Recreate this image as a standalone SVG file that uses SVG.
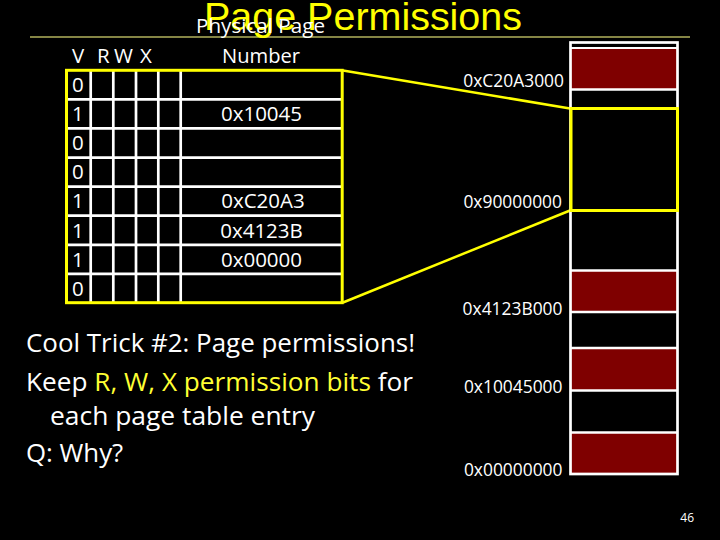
<svg xmlns="http://www.w3.org/2000/svg" width="720" height="540" viewBox="0 0 720 540">
<style>
  .t { font-family: "Open Sans", "Noto Sans", sans-serif; fill: #ffffff; }
  .cell { font-size: 20.5px; }
  .addr { font-size: 17.4px; text-anchor: end; }
  .ppn { font-size: 20.5px; text-anchor: middle; }
  .body { font-size: 25.8px; }
  .hl { fill: #ffff33; }
  .grid { stroke: #ffffff; stroke-width: 2.7; fill: none; }
  .seg { stroke: #ffffff; stroke-width: 2.7; fill: none; }
  .red { fill: #7f0000; }
  .ylw { stroke: #ffff00; stroke-width: 3; fill: none; }
  .conn { stroke: #ffff00; stroke-width: 2.5; fill: none; }
</style>
<rect x="0" y="0" width="720" height="540" fill="#000000"/>

<g id="title">
  <line x1="30" y1="37" x2="690" y2="37" stroke="#858545" stroke-width="2"/>
  <text x="204" y="29.5" font-family="Liberation Sans, Arial, sans-serif" font-size="39" fill="#ffff00" textLength="318" lengthAdjust="spacingAndGlyphs">Page Permissions</text>
</g>

<g id="page-table">
  <text class="t cell" x="196" y="33" textLength="129" lengthAdjust="spacingAndGlyphs">Physical Page</text>
  <text class="t cell" x="222" y="63" textLength="78" lengthAdjust="spacingAndGlyphs">Number</text>
  <text class="t cell" x="72" y="63">V</text>
  <text class="t cell" x="97" y="63">R</text>
  <text class="t cell" x="114" y="63">W</text>
  <text class="t cell" x="140" y="63">X</text>
  <g class="grid">
    <line x1="66" y1="99.3" x2="342" y2="99.3"/>
    <line x1="66" y1="128.4" x2="342" y2="128.4"/>
    <line x1="66" y1="157.6" x2="342" y2="157.6"/>
    <line x1="66" y1="186.6" x2="342" y2="186.6"/>
    <line x1="66" y1="215.7" x2="342" y2="215.7"/>
    <line x1="66" y1="244.8" x2="342" y2="244.8"/>
    <line x1="66" y1="273.9" x2="342" y2="273.9"/>
    <line x1="90.7" y1="70" x2="90.7" y2="303"/>
    <line x1="113.3" y1="70" x2="113.3" y2="303"/>
    <line x1="136" y1="70" x2="136" y2="303"/>
    <line x1="158.3" y1="70" x2="158.3" y2="303"/>
    <line x1="180.7" y1="70" x2="180.7" y2="303"/>
  </g>
  <rect class="ylw" x="66.5" y="70.3" width="275.7" height="232.4"/>
  <text class="t cell" x="72" y="92">0</text>
  <text class="t cell" x="72" y="121.1">1</text>
  <text class="t cell" x="72" y="150.2">0</text>
  <text class="t cell" x="72" y="179.3">0</text>
  <text class="t cell" x="72" y="208.4">1</text>
  <text class="t cell" x="72" y="237.5">1</text>
  <text class="t cell" x="72" y="266.6">1</text>
  <text class="t cell" x="72" y="295.7">0</text>
  <text class="t ppn" x="261.5" y="121">0x10045</text>
  <text class="t ppn" x="263" y="208.4">0xC20A3</text>
  <text class="t ppn" x="261.5" y="237.5">0x4123B</text>
  <text class="t ppn" x="261.5" y="266.6">0x00000</text>
</g>

<g id="connectors">
  <line class="conn" x1="343" y1="70.5" x2="570" y2="108.5"/>
  <line class="conn" x1="343" y1="302.5" x2="570" y2="210.5"/>
</g>

<g id="memory">
  <rect class="red" x="570" y="49" width="108" height="40"/>
  <rect class="red" x="570" y="271" width="108" height="41"/>
  <rect class="red" x="570" y="348" width="108" height="42"/>
  <rect class="red" x="570" y="432" width="108" height="42"/>
  <g class="seg">
    <line x1="570" y1="48" x2="678" y2="48" stroke-width="2"/>
    <line x1="570" y1="89.5" x2="678" y2="89.5"/>
    <line x1="570" y1="270.5" x2="678" y2="270.5"/>
    <line x1="570" y1="312" x2="678" y2="312"/>
    <line x1="570" y1="348" x2="678" y2="348"/>
    <line x1="570" y1="390.5" x2="678" y2="390.5"/>
    <line x1="570" y1="432.5" x2="678" y2="432.5"/>
    <rect x="570.5" y="42.5" width="107" height="431.5"/>
  </g>
  <rect class="ylw" x="571" y="108.5" width="106.5" height="102"/>
  <text class="t addr" x="564" y="87">0xC20A3000</text>
  <text class="t addr" x="562" y="208">0x90000000</text>
  <text class="t addr" x="562.5" y="315">0x4123B000</text>
  <text class="t addr" x="562.5" y="393">0x10045000</text>
  <text class="t addr" x="562.5" y="476">0x00000000</text>
</g>

<g id="body-text">
  <text class="t body" x="26" y="352" textLength="389" lengthAdjust="spacingAndGlyphs">Cool Trick #2: Page permissions!</text>
  <text class="t body" x="26" y="391" textLength="387" lengthAdjust="spacingAndGlyphs">Keep <tspan class="hl">R, W, X permission bits</tspan> for</text>
  <text class="t body" x="50" y="425" textLength="265" lengthAdjust="spacingAndGlyphs">each page table entry</text>
  <text class="t body" x="26" y="462">Q: Why?</text>
</g>

<text class="t" x="694" y="522" font-size="12" text-anchor="end">46</text>
</svg>
